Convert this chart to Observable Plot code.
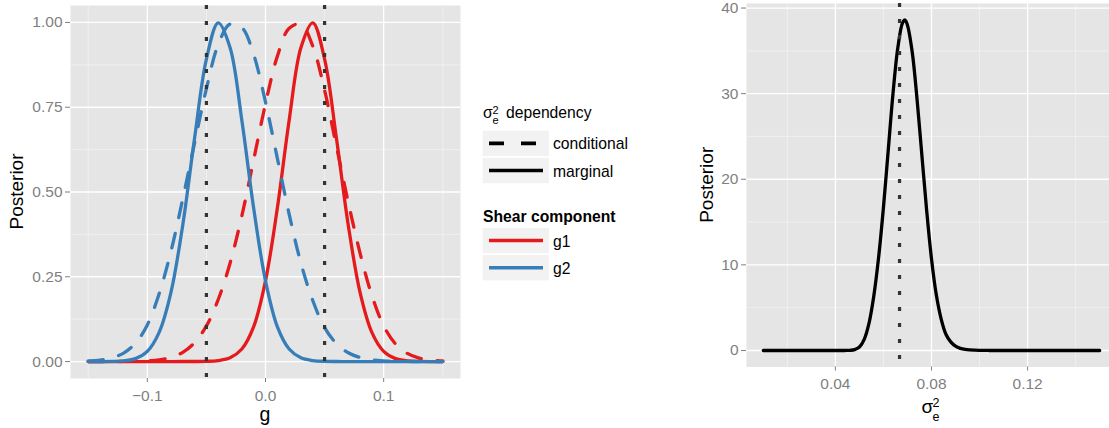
<!DOCTYPE html>
<html>
<head>
<meta charset="utf-8">
<script src="https://cdn.jsdelivr.net/npm/d3@7"></script>
<script src="https://cdn.jsdelivr.net/npm/@observablehq/plot@0.6"></script>
<style>
html, body { margin: 0; padding: 0; background: #fff; overflow: hidden; }
body { width: 1109px; height: 428px; position: relative; font-family: "Liberation Sans", Arial, Helvetica, sans-serif; }
.abs { position: absolute; top: 0; }
</style>
</head>
<body>
<div id="left" class="abs" style="left:0; width:470px; height:428px;"></div>
<div id="right" class="abs" style="left:690px; width:426px; height:428px;"></div>
<svg id="overlay" class="abs" style="left:0; pointer-events:none;" width="1109" height="428"></svg>
<script>
// ---------- data ----------
const gGrid = [-0.15, -0.14, -0.13, -0.12, -0.11, -0.10, -0.09, -0.08, -0.07, -0.06, -0.05, -0.04, -0.03, -0.02, -0.01,
  0.00, 0.01, 0.02, 0.03, 0.04, 0.05, 0.06, 0.07, 0.08, 0.09, 0.10, 0.11, 0.12, 0.13, 0.14, 0.15];

const g1Marginal = [0, 0, 0, 0, 0, 0, 0, 0, 0.0001, 0.0001, 0.0006, 0.003, 0.011, 0.037, 0.103,
  0.238, 0.452, 0.711, 0.926, 0.999, 0.892, 0.659, 0.403, 0.204, 0.086, 0.030, 0.0085, 0.002, 0.0004, 0, 0];

const g1Conditional = [0, 0, 0.0001, 0.0003, 0.0008, 0.002, 0.005, 0.012, 0.027, 0.056, 0.105, 0.183, 0.29, 0.43, 0.595,
  0.76, 0.90, 0.983, 0.995, 0.93, 0.80, 0.635, 0.47, 0.32, 0.195, 0.105, 0.052, 0.024, 0.010, 0.004, 0.002];

const g2Marginal = [0, 0, 0.0004, 0.002, 0.0085, 0.030, 0.086, 0.204, 0.403, 0.659, 0.892, 0.999, 0.926, 0.711, 0.452,
  0.238, 0.103, 0.037, 0.011, 0.003, 0.0006, 0.0001, 0, 0, 0, 0, 0, 0, 0, 0, 0];

const g2Conditional = [0.002, 0.004, 0.011, 0.025, 0.054, 0.108, 0.20, 0.325, 0.48, 0.645, 0.805, 0.935, 0.995, 0.985, 0.905,
  0.765, 0.60, 0.435, 0.29, 0.18, 0.10, 0.053, 0.026, 0.012, 0.005, 0.002, 0.0008, 0.0003, 0.0001, 0, 0];

const gReference = [-0.05, 0.05];

const sigmaGrid = [0.010, 0.030, 0.040, 0.044, 0.046, 0.048, 0.050, 0.052, 0.054, 0.056, 0.058, 0.060, 0.062, 0.064,
  0.066, 0.068, 0.069, 0.070, 0.072, 0.074, 0.076, 0.078, 0.080, 0.082, 0.084, 0.086, 0.088, 0.090, 0.092, 0.094,
  0.096, 0.098, 0.100, 0.104, 0.110, 0.130, 0.150];
const sigmaPosterior = [0, 0, 0, 0, 0.02, 0.1, 0.4, 1.3, 3.2, 6.4, 10.9, 16.7, 23.4, 30.1,
  35.4, 38.3, 38.6, 38.0, 34.8, 29.3, 22.8, 16.3, 10.7, 6.5, 3.7, 1.9, 1.0, 0.5, 0.25, 0.12,
  0.06, 0.03, 0.01, 0, 0, 0, 0];
const sigmaReference = [0.0667];

const gTicks = [-0.1, 0, 0.1];
const gMinorTicks = [-0.15, -0.05, 0.05, 0.15];
const leftPosteriorTicks = [0, 0.25, 0.5, 0.75, 1];
const leftPosteriorMinor = [0.125, 0.375, 0.625, 0.875];
const sigmaTicks = [0.04, 0.08, 0.12];
const sigmaMinorTicks = [0.02, 0.06, 0.10, 0.14];
const rightPosteriorTicks = [0, 10, 20, 30, 40];
const rightPosteriorMinor = [5, 15, 25, 35];

const dependencyLevels = ["conditional", "marginal"];
const shearLevels = ["g1", "g2"];

// ---------- styles ----------
const RED = "#E41A1C", BLUE = "#377EB8";
const DASH = "15,16";
const DOT = "4,12";
const FONT = '"Liberation Sans", Arial, Helvetica, sans-serif';
const GREY_TEXT = "#7F7F7F";

function panel(o) {
  return Plot.plot({
    width: o.width, height: o.height,
    marginLeft: o.ml, marginRight: o.mr, marginTop: o.mt, marginBottom: o.mb,
    style: { fontFamily: FONT, background: "transparent", overflow: "visible" },
    x: { domain: o.xDomain, label: null },
    y: { domain: o.yDomain, label: null },
    marks: [
      Plot.frame({ fill: "#E5E5E5", stroke: "none" }),
      Plot.ruleX(o.xMinor, { stroke: "#F2F2F2", strokeWidth: 0.8 }),
      Plot.ruleY(o.yMinor, { stroke: "#F2F2F2", strokeWidth: 0.8 }),
      Plot.ruleX(o.xMajor, { stroke: "#FFFFFF", strokeWidth: 1.3 }),
      Plot.ruleY(o.yMajor, { stroke: "#FFFFFF", strokeWidth: 1.3 }),
      ...o.lines,
      Plot.ruleX(o.refs, { stroke: "#333333", strokeWidth: 3.2, strokeDasharray: DOT }),
      Plot.axisX({ ticks: o.xMajor, tickFormat: o.xFmt, tickSize: 4, tickPadding: 7, fontSize: 15.5, color: GREY_TEXT, label: null }),
      Plot.axisY({ ticks: o.yMajor, tickFormat: o.yFmt, tickSize: 5, tickPadding: 3, fontSize: 15.5, color: GREY_TEXT, label: null })
    ]
  });
}

const curveLine = (ys, xs, stroke, dash) =>
  Plot.line(ys, { x: xs, y: d => d, stroke, strokeWidth: 3.3, strokeDasharray: dash, curve: "catmull-rom" });

const leftPlot = panel({
  width: 470, height: 428, ml: 70, mr: 10, mt: 5, mb: 50,
  xDomain: [-0.165, 0.165], yDomain: [-0.05, 1.05],
  xMajor: gTicks, xMinor: gMinorTicks, yMajor: leftPosteriorTicks, yMinor: leftPosteriorMinor,
  xFmt: d3.format(".1f"), yFmt: d3.format(".2f"),
  refs: gReference,
  lines: [
    curveLine(g1Conditional, gGrid, RED, DASH),
    curveLine(g1Marginal, gGrid, RED, null),
    curveLine(g2Conditional, gGrid, BLUE, DASH),
    curveLine(g2Marginal, gGrid, BLUE, null)
  ]
});
document.getElementById("left").append(leftPlot);

const rightPlot = panel({
  width: 426, height: 428, ml: 56, mr: 0, mt: 3, mb: 61.5,
  xDomain: [0.003, 0.157], yDomain: [-1.93, 40.53],
  xMajor: sigmaTicks, xMinor: sigmaMinorTicks, yMajor: rightPosteriorTicks, yMinor: rightPosteriorMinor,
  xFmt: d3.format(".2f"), yFmt: d3.format("d"),
  refs: sigmaReference,
  lines: [curveLine(sigmaPosterior, sigmaGrid, "#000000", null)]
});
document.getElementById("right").append(rightPlot);

// ---------- titles and legend ----------
const ov = d3.select("#overlay").style("font-family", FONT);

function txt(x, y, s, size, extra = {}) {
  const t = ov.append("text").attr("x", x).attr("y", y).attr("font-size", size).attr("fill", "#000").text(s);
  for (const k in extra) t.attr(k, extra[k]);
  return t;
}

// axis titles
txt(0, 0, "Posterior", 19, { "text-anchor": "middle", transform: "translate(23,191.5) rotate(-90)" });
txt(0, 0, "Posterior", 19, { "text-anchor": "middle", transform: "translate(713,184.8) rotate(-90)" });
txt(265, 421, "g", 19.5, { "text-anchor": "middle" });
txt(921.5, 413, "σ", 19);
txt(932.5, 406.5, "2", 12.5);
txt(932.5, 420.5, "e", 12.5);

// legend: dependency
txt(483, 118, "σ", 15.7);
txt(492.5, 113.5, "2", 11);
txt(492.5, 123.5, "e", 11);
txt(506, 118.3, "dependency", 15.7);

const depKeys = [{ y0: 130.7, dash: DASH }, { y0: 157.8, dash: null }];
dependencyLevels.forEach((lab, i) => {
  const k = depKeys[i];
  ov.append("rect").attr("x", 482.7).attr("y", k.y0).attr("width", 66.3).attr("height", 25.4).attr("fill", "#F2F2F2");
  ov.append("line").attr("x1", 489).attr("x2", 543).attr("y1", k.y0 + 12.7).attr("y2", k.y0 + 12.7)
    .attr("stroke", "#000").attr("stroke-width", 3.6).attr("stroke-dasharray", k.dash ? "15,17" : null);
  txt(553, k.y0 + 18.7, lab, 15.7);
});

txt(483, 221.5, "Shear component", 15.7, { "font-weight": "bold" });
const shearKeys = [{ y0: 227.8, c: RED }, { y0: 255, c: BLUE }];
shearLevels.forEach((lab, i) => {
  const k = shearKeys[i];
  ov.append("rect").attr("x", 482.7).attr("y", k.y0).attr("width", 66.3).attr("height", 25.4).attr("fill", "#F2F2F2");
  ov.append("line").attr("x1", 489).attr("x2", 543).attr("y1", k.y0 + 12.7).attr("y2", k.y0 + 12.7)
    .attr("stroke", k.c).attr("stroke-width", 3.6);
  txt(553, k.y0 + 18.7, lab, 15.7);
});
</script>
</body>
</html>
